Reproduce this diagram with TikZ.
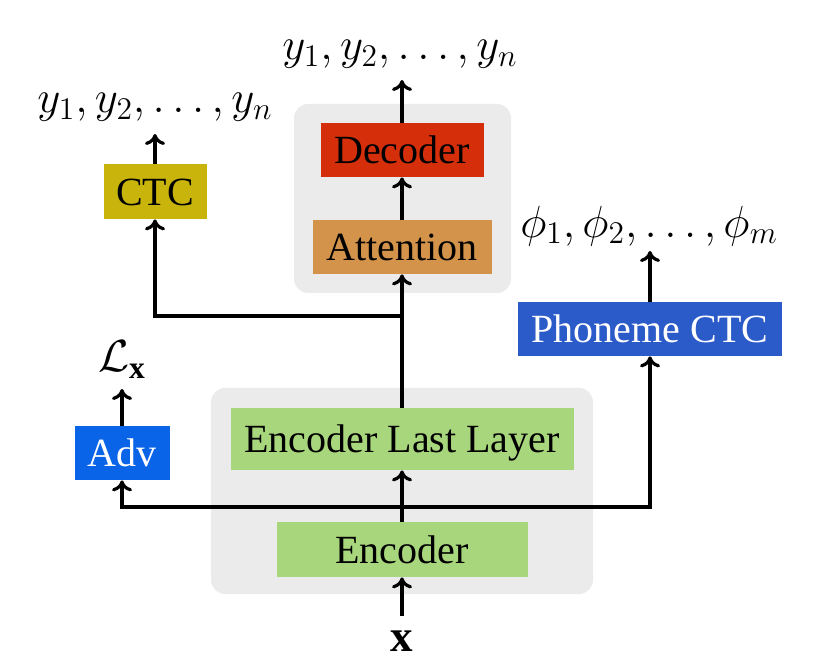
\RequirePackage{fix-cm}
\documentclass[tikz,border=0pt]{standalone}
\usepackage{fontspec}
\setmainfont{Liberation Serif}
\usetikzlibrary{arrows.meta}
\definecolor{grayback}{RGB}{235,235,235}
\definecolor{decred}{RGB}{212,46,10}
\definecolor{attorange}{RGB}{212,147,74}
\definecolor{ctcyellow}{RGB}{200,180,10}
\definecolor{phoblue}{RGB}{43,91,200}
\definecolor{advblue}{RGB}{10,100,232}
\definecolor{encgreen}{RGB}{168,214,124}
\begin{document}
\begin{tikzpicture}[x=0.5pt,y=-0.5pt,
  font=\fontsize{20}{24}\selectfont,
  box/.style={inner sep=0pt,text height=16pt,text depth=2pt,align=center},
  conn/.style={line width=2pt,-{To[length=5.5pt,width=10pt,line width=1.6pt]}},
  lbl/.style={inner sep=0pt,font=\fontsize{22.5}{27}\selectfont}]
\useasboundingbox (0,0) rectangle (839,672);
% gray panels
\fill[grayback,rounded corners=7pt] (294,104) rectangle (511,293);
\fill[grayback,rounded corners=7pt] (211,388) rectangle (593,594);
% boxes
\node[box,fill=decred,minimum width=81.5pt,minimum height=27pt] (dec) at (402,150) {Decoder};
\node[box,fill=attorange,minimum width=89.5pt,minimum height=27pt] (att) at (402,247) {Attention};
\node[box,fill=ctcyellow,minimum width=51.5pt,minimum height=27.5pt] (ctc) at (155,191.5) {CTC};
\node[box,fill=phoblue,text=white,minimum width=132pt,minimum height=27pt] (pho) at (650,329) {Phoneme CTC};
\node[box,fill=advblue,text=white,minimum width=47.5pt,minimum height=27pt] (adv) at (122,453) {Adv};
\node[box,fill=encgreen,minimum width=171.5pt,minimum height=31pt] (ell) at (402,439) {Encoder Last Layer};
\node[box,fill=encgreen,minimum width=125.5pt,minimum height=27.5pt] (enc) at (402,549.5) {Encoder};
% labels
\node[lbl] (ytop) at (400,54) {$y_1,y_2,\ldots,y_n$};
\node[lbl] (yctc) at (155,107) {$y_1,y_2,\ldots,y_n$};
\node[lbl] (phi) at (649,226) {$\phi_1,\phi_2,\ldots,\phi_m$};
\node[lbl] (lx) at (122,360) {$\mathcal{L}_{\mathbf{x}}$};
\node[lbl] (x) at (402,641) {$\mathbf{x}$};
% junctions and free ends
\coordinate (j1) at (402,316);
\coordinate (j2) at (402,507);
\coordinate (xs) at (402,616);
\coordinate (yte) at (402,80);
\coordinate (yce) at (155,134);
\coordinate (phe) at (650,251);
\coordinate (lxe) at (122,389);
% connectors
\draw[conn] (xs) -- (enc.south);
\draw[conn] (enc.north) -- (ell.south);
\draw[conn] (ell.north) -- (att.south);
\draw[conn] (att.north) -- (dec.south);
\draw[conn] (dec.north) -- (yte);
\draw[conn] (j1) -| (ctc.south);
\draw[conn] (ctc.north) -- (yce);
\draw[conn] (j2) -| (adv.south);
\draw[conn] (j2) -| (pho.south);
\draw[conn] (adv.north) -- (lxe);
\draw[conn] (pho.north) -- (phe);
\end{tikzpicture}
\end{document}
